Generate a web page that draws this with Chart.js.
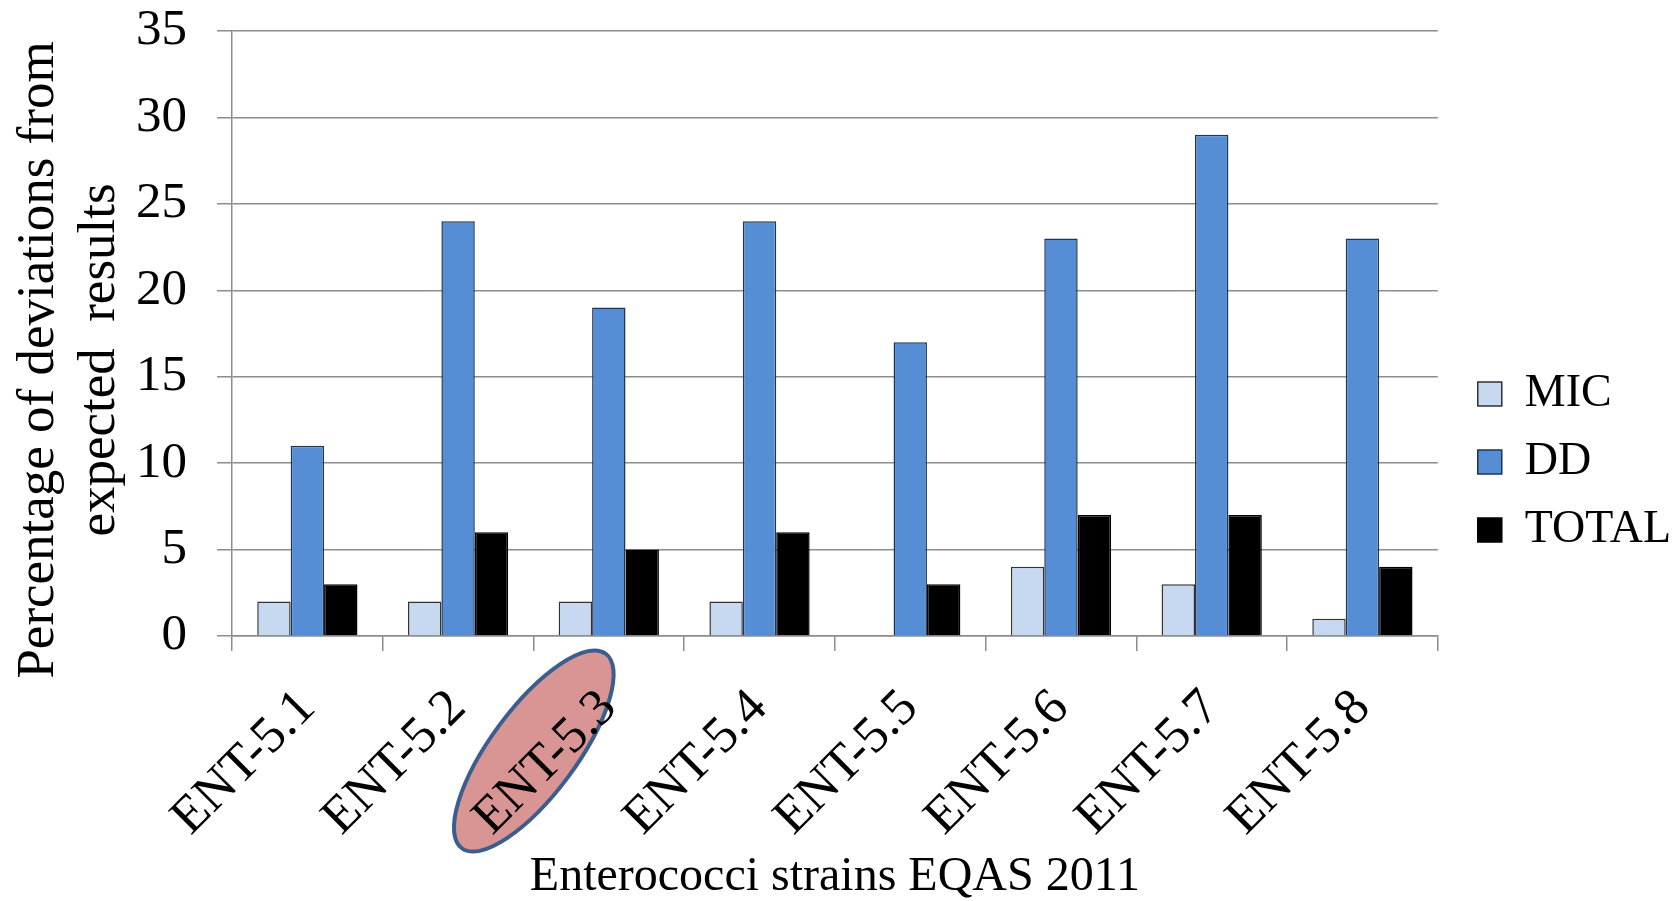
<!DOCTYPE html>
<html>
<head>
<meta charset="utf-8">
<script src="https://cdn.jsdelivr.net/npm/chart.js@4.4.1/dist/chart.umd.min.js"></script>
<style>
  html, body { margin: 0; padding: 0; background: #fff; }
  #wrap { width: 1675px; height: 901px; }
</style>
</head>
<body>
<div id="wrap"><canvas id="eqas-chart" width="1675" height="901"></canvas></div>
<script>
// data
const strains = ['ENT-5.1', 'ENT-5.2', 'ENT-5.3', 'ENT-5.4', 'ENT-5.5', 'ENT-5.6', 'ENT-5.7', 'ENT-5.8'];
const micValues = [2, 2, 2, 2, 0, 4, 3, 1];
const ddValues = [11, 24, 19, 24, 17, 23, 29, 23];
const totalValues = [3, 6, 5, 6, 3, 7, 7, 4];
const yTicks = [0, 5, 10, 15, 20, 25, 30, 35];

const serif = 'Liberation Serif';
const gridGray = '#8c8c8c';

// highlighted strain gets an ellipse behind its label
const highlightIndex = 2;
const ellipsePlugin = {
    id: 'highlightEllipse',
    beforeDraw: function(chart){
        const x = chart.scales.x.getPixelForValue(highlightIndex);
        const y = chart.scales.y.getPixelForValue(0);
        const ctx = chart.ctx;
        ctx.save();
        ctx.beginPath();
        ctx.ellipse(x - 75, y + 115, 121, 43, -53.5 * Math.PI / 180, 0, Math.PI * 2);
        ctx.fillStyle = '#d99594';
        ctx.fill();
        ctx.lineWidth = 4;
        ctx.strokeStyle = '#3b5e8e';
        ctx.stroke();
        ctx.restore();
    }
};

// nudge the legend a bit away from the plot, like the original
const legendNudge = {
    id: 'legendNudge',
    afterLayout: function(chart){
        const lg = chart.legend;
        lg.left += 18; lg.right += 18;
        lg.top -= 4; lg.bottom -= 4;
    }
};

const ctx = document.getElementById('eqas-chart').getContext('2d');
new Chart(ctx, {
    type: 'bar',
    data: {
        labels: strains,
        datasets: [
            {
                label: 'MIC',
                data: micValues,
                backgroundColor: '#c6d9f1',
                borderColor: '#333333',
                borderWidth: 1.5
            },
            {
                label: 'DD',
                data: ddValues,
                backgroundColor: '#558ed5',
                borderColor: '#1f3553',
                borderWidth: 1.5
            },
            {
                label: 'TOTAL',
                data: totalValues,
                backgroundColor: '#000000',
                borderColor: '#000000',
                borderWidth: 1.5
            }
        ]
    },
    options: {
        responsive: false,
        animation: false,
        layout: {
            padding: { top: 31, left: 0, right: 12, bottom: 0 }
        },
        datasets: {
            bar: {
                categoryPercentage: 0.665,
                barPercentage: 1.0
            }
        },
        scales: {
            x: {
                grid: {
                    offset: true,
                    drawOnChartArea: false,
                    color: gridGray,
                    lineWidth: 1.5,
                    tickLength: 15
                },
                border: { color: gridGray, width: 1.5 },
                ticks: {
                    autoSkip: false,
                    minRotation: 45,
                    maxRotation: 45,
                    padding: 27,
                    color: '#000',
                    font: { family: serif, size: 52 }
                },
                title: {
                    display: true,
                    text: 'Enterococci strains EQAS 2011',
                    color: '#000',
                    font: { family: serif, size: 48, lineHeight: 1.0 },
                    padding: { top: 0, bottom: 0 }
                },
                afterFit: function(scale){ scale.height = 265; }
            },
            y: {
                min: 0,
                max: 35,
                afterBuildTicks: function(scale){
                    scale.ticks = yTicks.map(v => ({ value: v }));
                },
                grid: {
                    color: gridGray,
                    lineWidth: 1.5,
                    tickLength: 15
                },
                border: { color: gridGray, width: 1.5 },
                ticks: {
                    padding: 30,
                    color: '#000',
                    font: { family: serif, size: 51 }
                },
                title: {
                    display: true,
                    // trailing spaces push the title down a little, as in the original
                    text: ['Percentage of deviations from    ', 'expected  results    '],
                    color: '#000',
                    font: { family: serif, size: 53, lineHeight: 1.15 },
                    padding: { top: 9, bottom: 0 }
                },
                afterFit: function(scale){
                    scale.width = 232;
                    // top label may overhang the plot, no extra room needed
                    scale.paddingTop = 0;
                    scale.paddingBottom = 0;
                }
            }
        },
        plugins: {
            legend: {
                position: 'right',
                labels: {
                    boxWidth: 24,
                    boxHeight: 24,
                    padding: 22,
                    color: '#000',
                    font: { family: serif, size: 46 }
                }
            },
            tooltip: { enabled: false },
            datalabels: {
                display: false
            }
        }
    },
    plugins: [ellipsePlugin, legendNudge]
});
</script>
</body>
</html>
